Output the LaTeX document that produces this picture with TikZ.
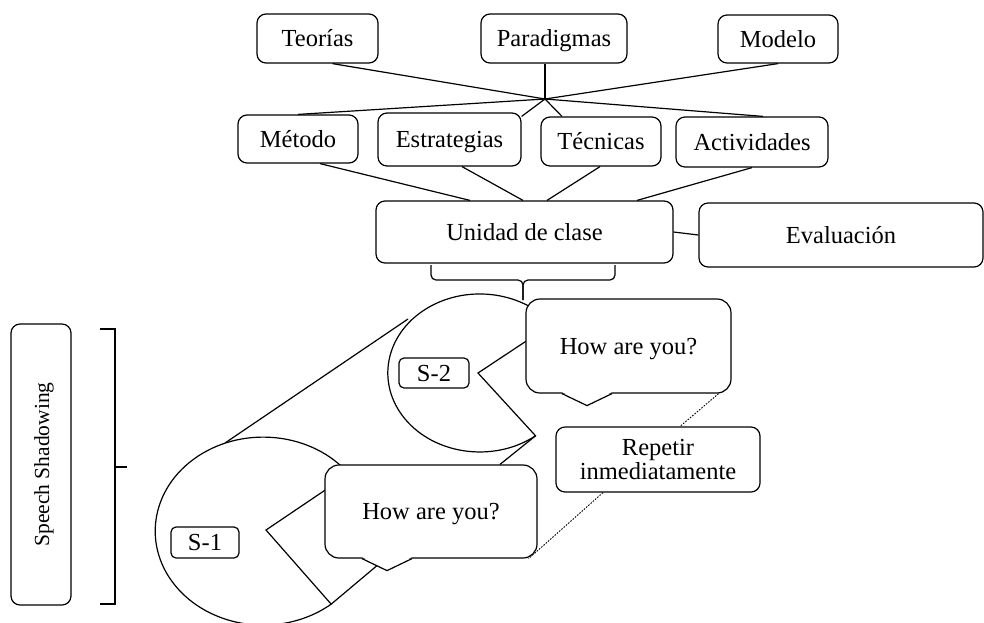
\documentclass[tikz,border=0pt]{standalone}
\usepackage{fontspec}
\setmainfont{Liberation Serif}
\usetikzlibrary{calc}

\begin{document}
\begin{tikzpicture}[x=1pt, y=-1pt, line width=1.2pt]
    % Define the styles for each node
    \tikzstyle{concept} = [rectangle, draw, fill=white, rounded corners=9pt, inner sep=0pt, text height=18pt, text depth=2pt, font=\fontsize{24.5}{24}\selectfont]
    \tikzstyle{bubble} = [concept, rounded corners=14pt]
    \tikzstyle{tagbox} = [concept, rounded corners=5pt]
    \tikzstyle{dots} = [dash pattern=on 1.6pt off 1.4pt, line width=0.9pt]

    \useasboundingbox (0,0) rectangle (984,622);

    % Upper level
    \node [concept, minimum width=121, minimum height=49] (teorias) at (317.5,38.5) {Teorías};
    \node [concept, minimum width=146, minimum height=49] (paradigmas) at (554,38.5) {Paradigmas};
    \node [concept, minimum width=120, minimum height=48] (modelo) at (778,39) {Modelo};

    % Second level
    \node [concept, minimum width=120, minimum height=48] (metodo) at (298,139) {Método};
    \node [concept, minimum width=143, minimum height=53] (estrategias) at (449.5,139.5) {Estrategias};
    \node [concept, minimum width=120, minimum height=49] (tecnicas) at (601,141.5) {Técnicas};
    \node [concept, minimum width=152, minimum height=50] (actividades) at (752,142) {Actividades};

    % Class unit and evaluation
    \node [concept, minimum width=297, minimum height=62] (unidad) at (524.5,232) {Unidad de clase};
    \node [concept, minimum width=284, minimum height=64] (evaluacion) at (841,235) {Evaluación};

    % Crossing lines through the hub
    \coordinate (hub) at (545,99);
    \draw ([xshift=15pt]teorias.south) -- (hub);
    \draw ([xshift=-9pt]paradigmas.south) -- (hub);
    \draw (modelo.south) -- (hub);
    \draw (hub) -- (metodo.north);
    \draw (hub) -- ([yshift=-4pt]estrategias.north east);
    \draw (hub) -- ([xshift=-39pt]tecnicas.north);
    \draw (hub) -- ([xshift=11pt]actividades.north);

    % Lines into the class unit
    \draw ([xshift=22pt]metodo.south) -- ([xshift=-54.5pt]unidad.north);
    \draw ([xshift=12.5pt]estrategias.south) -- ([xshift=-1.5pt]unidad.north);
    \draw ([xshift=-1pt]tecnicas.south) -- ([xshift=22.5pt]unidad.north);
    \draw (actividades.south) -- ([xshift=112.5pt]unidad.north);
    \draw (unidad.east) -- (evaluacion.west);

    % Brace under the class unit
    \draw [rounded corners=5pt] (431,265) -- (431,280) -- (523,280) -- (523,300);
    \draw [rounded corners=5pt] (615,265) -- (615,280) -- (523,280) -- (523,300);

    % Side label and bracket
    \node [concept, rotate=90, minimum width=281, minimum height=60, font=\fontsize{21.5}{24}\selectfont] (shadow) at (41,464.5) {Speech Shadowing};
    \draw (100,329) -- (115,329) -- (115,604) -- (100,604);
    \draw (115,467) -- (127,467);

    % Two speakers
    \coordinate (t2) at (408,319);
    \coordinate (t1) at (225,443);
    \draw (t2) -- (t1);
    \filldraw [fill=white] (478,373) -- (552,324) arc [start angle=-38.3, end angle=-307.3, x radius=92, y radius=79] coordinate (mouth2) -- cycle;
    \filldraw [fill=white] (266,530) -- (349,474) arc [start angle=-37.4, end angle=-309, x radius=108, y radius=94] coordinate (mouth1) -- cycle;

    % Speech bubbles
    \node [bubble, minimum width=205, minimum height=94] (bubble2) at (628.5,346) {How are you?};
    \fill [white] ($(bubble2.south)+(-66.5,-1.5)$) -- ($(bubble2.south)+(-41.5,11)$) -- ($(bubble2.south)+(-16.5,-1.5)$) -- cycle;
    \draw ($(bubble2.south)+(-66.5,0)$) -- ($(bubble2.south)+(-41.5,12)$) -- ($(bubble2.south)+(-16.5,0)$);

    \node [bubble, minimum width=212, minimum height=93] (bubble1) at (431,511.5) {How are you?};
    \fill [white] ($(bubble1.south)+(-69,-1.5)$) -- ($(bubble1.south)+(-44,11)$) -- ($(bubble1.south)+(-19,-1.5)$) -- cycle;
    \draw ($(bubble1.south)+(-69,0)$) -- ($(bubble1.south)+(-44,12)$) -- ($(bubble1.south)+(-19,0)$);
    \coordinate (tail1) at ($(bubble1.south)+(-54,7)$);

    \draw (mouth1) -- (tail1);
    \draw (mouth2) -- ([xshift=69pt]bubble1.north);

    % Repeat step
    \node [concept, minimum width=204, minimum height=65, align=center, text height={}, text depth={}] (repetir) at (658,459.5) {Repetir\\inmediatamente};
    \draw [dots] ($(bubble2.south east)+(-13,0)$) -- ([xshift=22pt]repetir.north);
    \draw [dots] ([xshift=-55pt]repetir.south) -- ($(bubble1.south east)+(-9,0)$);

    % Speaker tags
    \node [tagbox, minimum width=68, minimum height=31] (s1) at (205,542.5) {S-1};
    \node [tagbox, minimum width=70, minimum height=30] (s2) at (434,373) {S-2};
\end{tikzpicture}
\end{document}
